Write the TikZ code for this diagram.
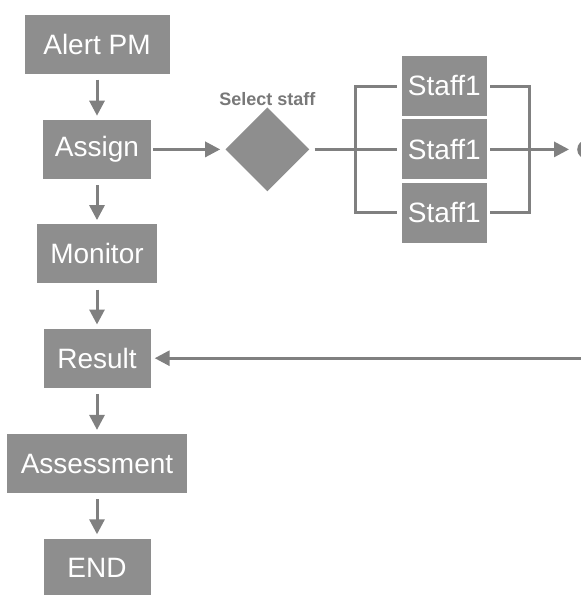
\documentclass[tikz,border=0pt]{standalone}
\usepackage{fontspec}
\setmainfont{Liberation Sans}
\usetikzlibrary{positioning, calc, shapes.geometric, arrows.meta}
\definecolor{boxgray}{RGB}{142,142,142}
\definecolor{linegray}{RGB}{128,128,128}
\definecolor{labelgray}{RGB}{120,120,120}

\begin{document}
\begin{tikzpicture}[
        x=1pt, y=1pt,
        node distance=45pt and 74pt,
        stepbox/.style={rectangle, fill=boxgray, text=white, minimum width=107pt,
                        minimum height=59pt, inner xsep=12pt, align=center,
                        font=\fontsize{28}{32}\selectfont},
        staffbox/.style={stepbox, minimum width=85pt, minimum height=60pt, inner xsep=4pt},
        choice/.style={diamond, fill=boxgray, minimum width=84pt, minimum height=84pt,
                       inner sep=0pt},
        flowline/.style={draw=linegray, line width=3pt},
        flowarr/.style={flowline, -{Triangle[length=15pt, width=15pt]}},
    ]
    \useasboundingbox (0,0) rectangle (581,-595);

    % ---- Main column ----
    \node[stepbox, minimum width=145pt] (ALERT) at (97,-44) {Alert PM};
    \node[stepbox, below=46pt of ALERT] (ASSIGN) {Assign};
    \node[stepbox, below=45pt of ASSIGN, minimum width=120pt] (MONITOR) {Monitor};
    \node[stepbox, below=45pt of MONITOR] (RESULT) {Result};
    \node[stepbox, below=46pt of RESULT, minimum width=180pt] (ASSESS) {Assessment};
    \node[stepbox, below=45pt of ASSESS] (END) {END};

    \draw[flowarr, shorten <=6pt, shorten >=4pt] (ALERT) -- (ASSIGN);
    \draw[flowarr, shorten <=6pt, shorten >=4pt] (ASSIGN) -- (MONITOR);
    \draw[flowarr, shorten <=6pt, shorten >=4pt] (MONITOR) -- (RESULT);
    \draw[flowarr, shorten <=6pt, shorten >=4pt] (RESULT) -- (ASSESS);
    \draw[flowarr, shorten <=6pt, shorten >=4pt] (ASSESS) -- (END);

    % ---- Staff selection ----
    \node[choice, right=74pt of ASSIGN] (SELECT) {};
    \node[font=\bfseries\fontsize{18}{21}\selectfont, text=labelgray, above=-2pt of SELECT]
        (SELLBL) {Select staff};
    \node[staffbox, right=92pt of SELECT] (S2) {Staff1};
    \node[staffbox, above=3pt of S2] (S1) {Staff1};
    \node[staffbox, below=3pt of S2] (S3) {Staff1};
    \node[circle, fill=linegray, minimum size=19pt, inner sep=0pt, right=90pt of S2]
        (DONE) {};

    \coordinate (JL) at ($(S2.west)+(-46,0)$);
    \coordinate (JR) at ($(S2.east)+(42,0)$);

    \draw[flowarr, shorten <=2pt, shorten >=5pt] (ASSIGN) -- (SELECT);
    \draw[flowline, shorten <=5pt, shorten >=5pt] (SELECT) -- (S2);
    \draw[flowline] ([xshift=-5pt]S1.west) -| (JL) |- ([xshift=-5pt]S3.west);
    \draw[flowline] ([xshift=3pt]S1.east) -| (JR) |- ([xshift=3pt]S3.east);
    \draw[flowarr, shorten <=3pt, shorten >=8pt] (S2) -- (DONE);

    % ---- Return to result ----
    \coordinate (BACK) at (RESULT.east -| DONE.center);
    \draw[flowarr, shorten >=4pt] (BACK) -- (RESULT);
\end{tikzpicture}
\end{document}
